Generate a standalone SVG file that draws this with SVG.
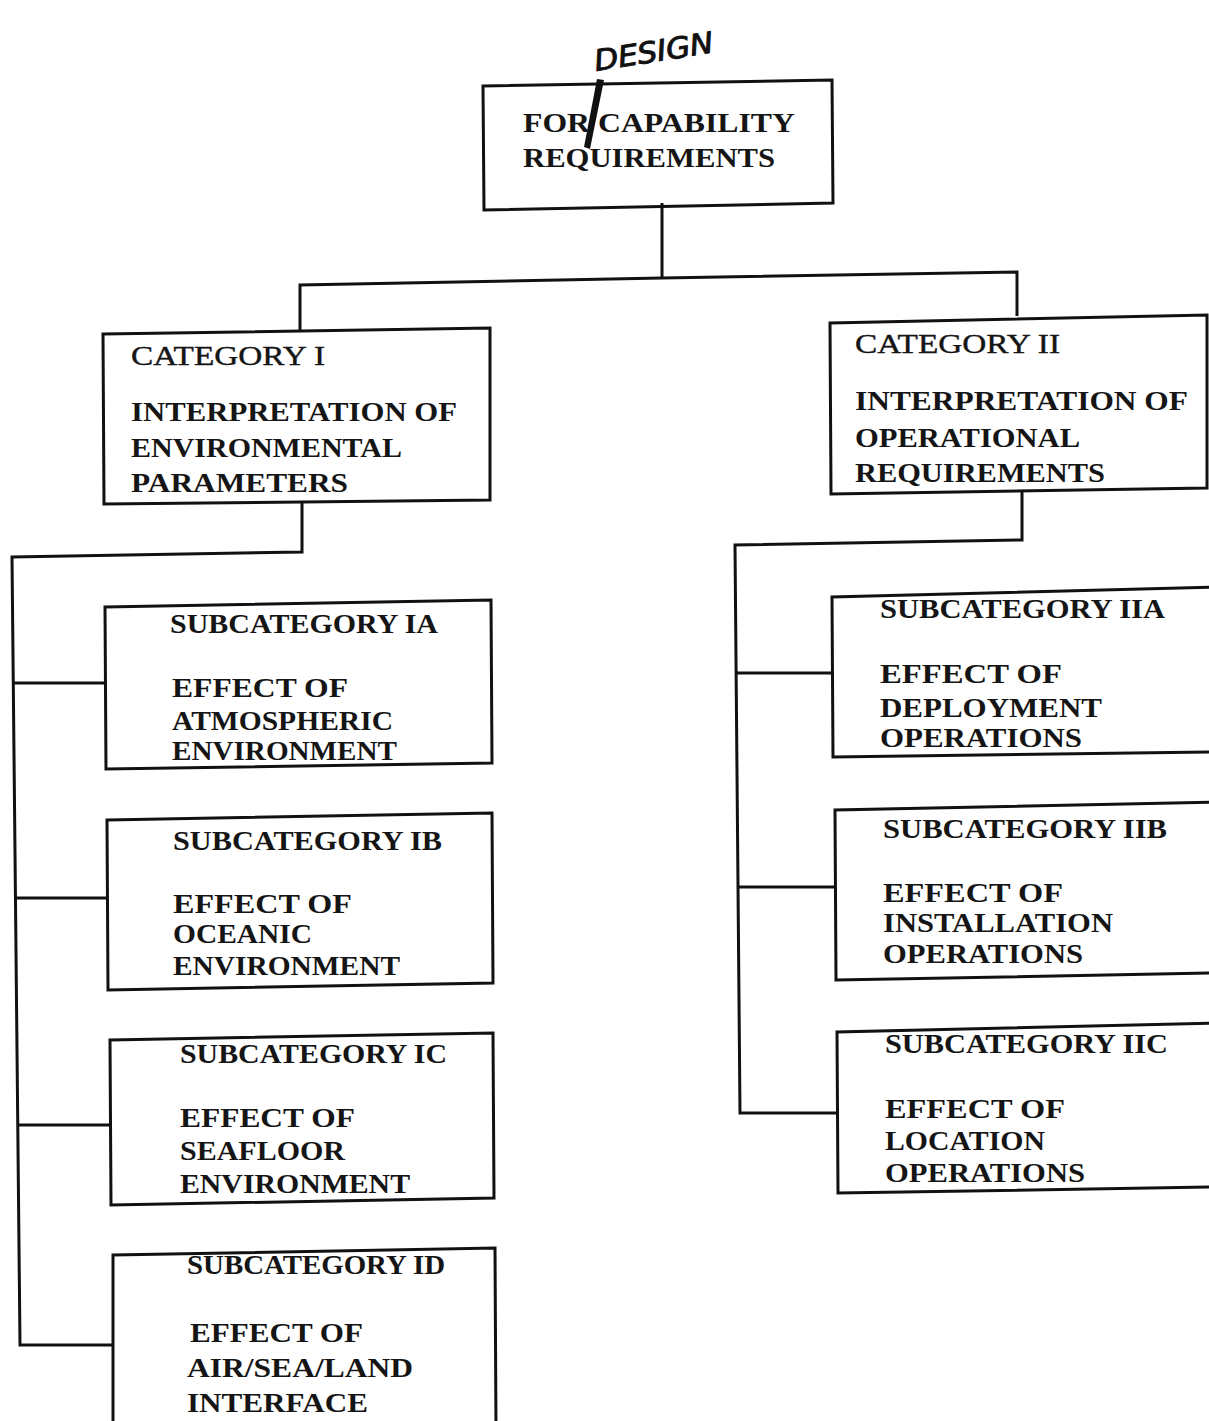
<svg xmlns="http://www.w3.org/2000/svg" width="1209" height="1421" viewBox="0 0 1209 1421">
<style>
.bg{fill:#ffffff}
.box{fill:none;stroke:#111;stroke-width:3;stroke-linejoin:miter}
.ln{fill:none;stroke:#111;stroke-width:3;stroke-linejoin:miter}
.t{font-family:"Liberation Serif","Times New Roman",serif;font-weight:bold;font-size:27px;fill:#151515}
.c{font-family:"Liberation Serif","Times New Roman",serif;font-weight:normal;font-size:27px;fill:#151515;stroke:#151515;stroke-width:0.4}
.hw{font-family:"Liberation Sans Narrow","DejaVu Sans Condensed","Liberation Sans",sans-serif;font-style:italic;font-size:29px;fill:#111;stroke:#111;stroke-width:0.9}
</style>
<rect class="bg" x="0" y="0" width="1209" height="1421"/>

<g id="connectors">
  <path class="ln" d="M662 203 L662 278"/>
  <path class="ln" d="M300 332 L300 285 L662 278 L1017 272 L1017 316"/>
  <path class="ln" d="M302 503 L302 552 L12 557 L20 1345 L113 1345"/>
  <path class="ln" d="M13 683 L105 683"/>
  <path class="ln" d="M15 898 L107 898"/>
  <path class="ln" d="M18 1125 L110 1125"/>
  <path class="ln" d="M1022 490 L1022 540 L735 545 L740 1113 L837 1113"/>
  <path class="ln" d="M736 673 L832 673"/>
  <path class="ln" d="M738 887 L835 887"/>
</g>

<g id="annotation">
  <text class="hw" transform="translate(596 71) rotate(-9)" textLength="120" lengthAdjust="spacingAndGlyphs">DESIGN</text>
  <polygon points="597,79 604,80 590,149 584,147" fill="#111"/>
</g>

<g id="top">
  <path class="box" d="M483 86 L832 80 L833 203 L484 210 Z"/>
  <text class="t" x="523" y="132" textLength="272" lengthAdjust="spacingAndGlyphs">FOR CAPABILITY</text>
  <text class="t" x="523" y="167" textLength="252" lengthAdjust="spacingAndGlyphs">REQUIREMENTS</text>
</g>

<g id="cat1">
  <path class="box" d="M103 334 L490 328 L490 500 L104 504 Z"/>
  <text class="c" x="131" y="365" textLength="194" lengthAdjust="spacingAndGlyphs">CATEGORY I</text>
  <text class="t" x="131" y="421" textLength="326" lengthAdjust="spacingAndGlyphs">INTERPRETATION OF</text>
  <text class="t" x="131" y="457" textLength="271" lengthAdjust="spacingAndGlyphs">ENVIRONMENTAL</text>
  <text class="t" x="131" y="492" textLength="217" lengthAdjust="spacingAndGlyphs">PARAMETERS</text>
</g>

<g id="cat2">
  <path class="box" d="M830 323 L1207 315 L1207 488 L831 494 Z"/>
  <text class="c" x="855" y="353" textLength="205" lengthAdjust="spacingAndGlyphs">CATEGORY II</text>
  <text class="t" x="855" y="410" textLength="333" lengthAdjust="spacingAndGlyphs">INTERPRETATION OF</text>
  <text class="t" x="855" y="447" textLength="225" lengthAdjust="spacingAndGlyphs">OPERATIONAL</text>
  <text class="t" x="855" y="482" textLength="250" lengthAdjust="spacingAndGlyphs">REQUIREMENTS</text>
</g>

<g id="sub1a">
  <path class="box" d="M105 607 L491 600 L492 763 L106 769 Z"/>
  <text class="t" x="170" y="633" textLength="268" lengthAdjust="spacingAndGlyphs">SUBCATEGORY IA</text>
  <text class="t" x="172" y="697" textLength="176" lengthAdjust="spacingAndGlyphs">EFFECT OF</text>
  <text class="t" x="172" y="730" textLength="221" lengthAdjust="spacingAndGlyphs">ATMOSPHERIC</text>
  <text class="t" x="172" y="760" textLength="225" lengthAdjust="spacingAndGlyphs">ENVIRONMENT</text>
</g>

<g id="sub1b">
  <path class="box" d="M107 820 L492 813 L493 983 L108 990 Z"/>
  <text class="t" x="173" y="850" textLength="269" lengthAdjust="spacingAndGlyphs">SUBCATEGORY IB</text>
  <text class="t" x="173" y="913" textLength="179" lengthAdjust="spacingAndGlyphs">EFFECT OF</text>
  <text class="t" x="173" y="943" textLength="139" lengthAdjust="spacingAndGlyphs">OCEANIC</text>
  <text class="t" x="173" y="975" textLength="227" lengthAdjust="spacingAndGlyphs">ENVIRONMENT</text>
</g>

<g id="sub1c">
  <path class="box" d="M110 1040 L493 1033 L494 1198 L111 1205 Z"/>
  <text class="t" x="180" y="1063" textLength="267" lengthAdjust="spacingAndGlyphs">SUBCATEGORY IC</text>
  <text class="t" x="180" y="1127" textLength="175" lengthAdjust="spacingAndGlyphs">EFFECT OF</text>
  <text class="t" x="180" y="1160" textLength="165" lengthAdjust="spacingAndGlyphs">SEAFLOOR</text>
  <text class="t" x="180" y="1193" textLength="230" lengthAdjust="spacingAndGlyphs">ENVIRONMENT</text>
</g>

<g id="sub1d">
  <path class="box" d="M113 1430 L113 1255 L495 1248 L496 1430"/>
  <text class="t" x="187" y="1274" textLength="258" lengthAdjust="spacingAndGlyphs">SUBCATEGORY ID</text>
  <text class="t" x="190" y="1342" textLength="173" lengthAdjust="spacingAndGlyphs">EFFECT OF</text>
  <text class="t" x="187" y="1377" textLength="226" lengthAdjust="spacingAndGlyphs">AIR/SEA/LAND</text>
  <text class="t" x="187" y="1412" textLength="181" lengthAdjust="spacingAndGlyphs">INTERFACE</text>
</g>

<g id="sub2a">
  <path class="box" d="M1215 587 L832 597 L833 757 L1215 752"/>
  <text class="t" x="880" y="618" textLength="285" lengthAdjust="spacingAndGlyphs">SUBCATEGORY IIA</text>
  <text class="t" x="880" y="683" textLength="182" lengthAdjust="spacingAndGlyphs">EFFECT OF</text>
  <text class="t" x="880" y="717" textLength="222" lengthAdjust="spacingAndGlyphs">DEPLOYMENT</text>
  <text class="t" x="880" y="747" textLength="202" lengthAdjust="spacingAndGlyphs">OPERATIONS</text>
</g>

<g id="sub2b">
  <path class="box" d="M1215 802 L835 810 L836 980 L1215 973"/>
  <text class="t" x="883" y="838" textLength="284" lengthAdjust="spacingAndGlyphs">SUBCATEGORY IIB</text>
  <text class="t" x="883" y="902" textLength="180" lengthAdjust="spacingAndGlyphs">EFFECT OF</text>
  <text class="t" x="883" y="932" textLength="230" lengthAdjust="spacingAndGlyphs">INSTALLATION</text>
  <text class="t" x="883" y="963" textLength="200" lengthAdjust="spacingAndGlyphs">OPERATIONS</text>
</g>

<g id="sub2c">
  <path class="box" d="M1215 1023 L837 1032 L838 1193 L1215 1187"/>
  <text class="t" x="885" y="1053" textLength="283" lengthAdjust="spacingAndGlyphs">SUBCATEGORY IIC</text>
  <text class="t" x="885" y="1118" textLength="180" lengthAdjust="spacingAndGlyphs">EFFECT OF</text>
  <text class="t" x="885" y="1150" textLength="160" lengthAdjust="spacingAndGlyphs">LOCATION</text>
  <text class="t" x="885" y="1182" textLength="200" lengthAdjust="spacingAndGlyphs">OPERATIONS</text>
</g>
</svg>
